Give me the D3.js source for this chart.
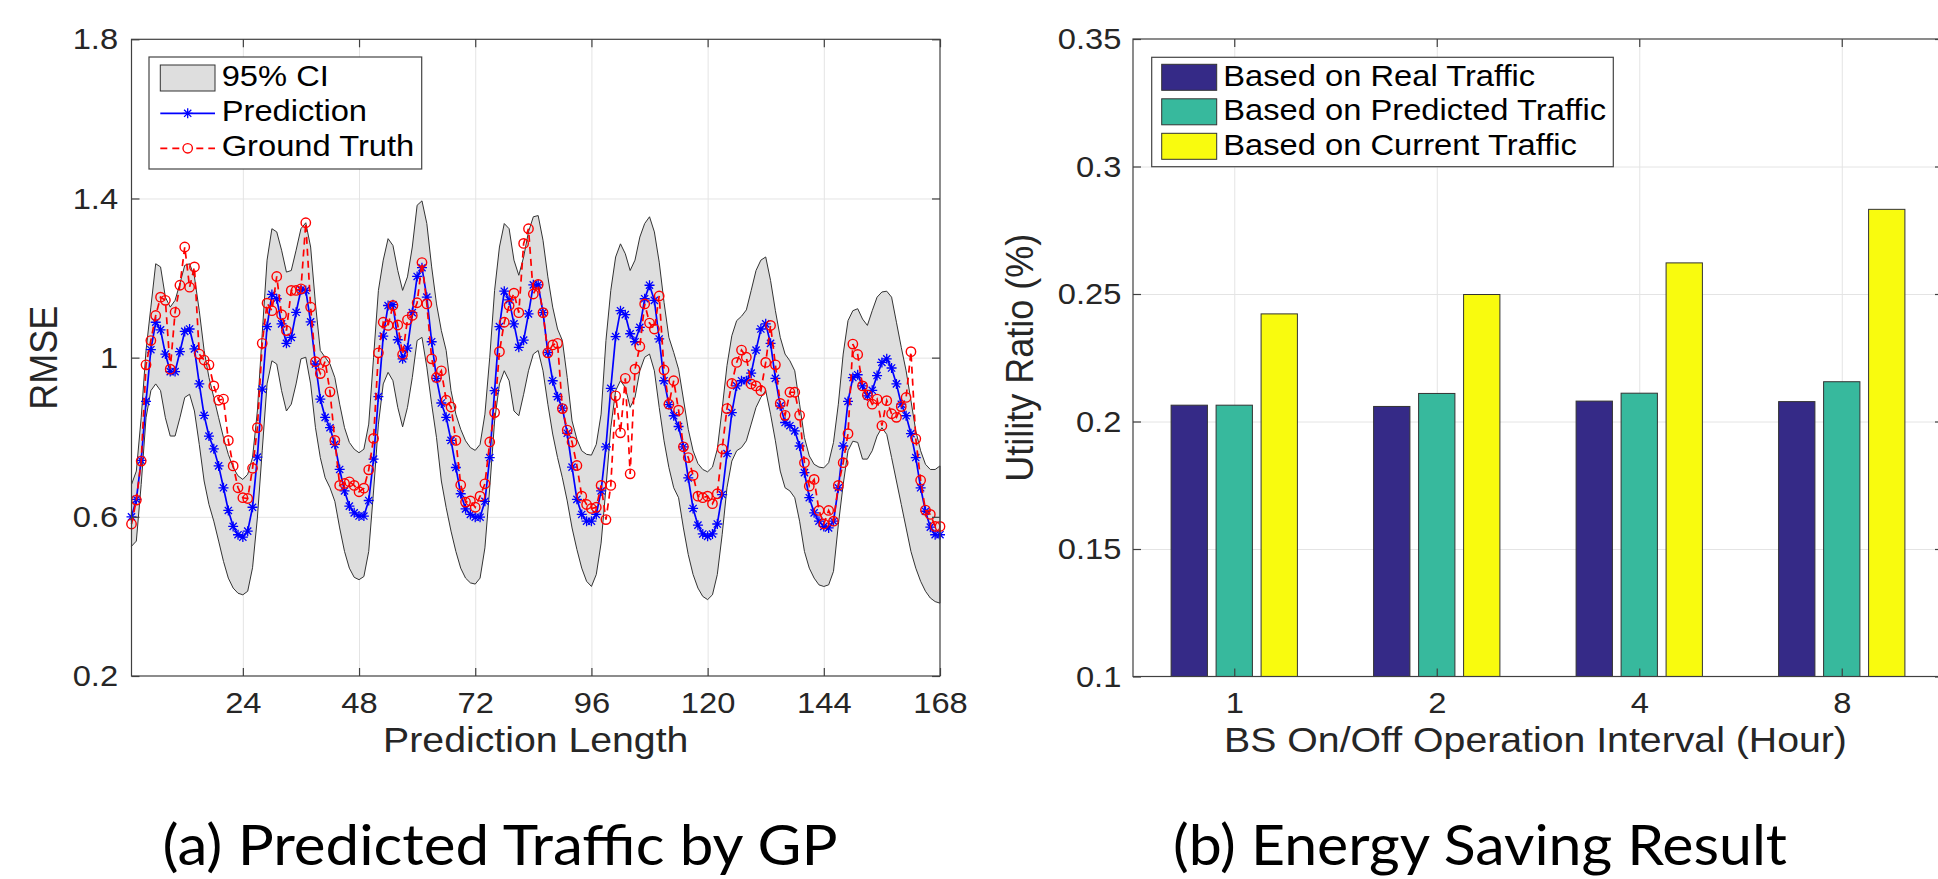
<!DOCTYPE html>
<html>
<head>
<meta charset="utf-8">
<script src="https://cdn.jsdelivr.net/npm/d3@7"></script>
<style>
  body { margin: 0; background: #fff; }
  svg { display: block; }
  text { font-family: "Liberation Sans", Arial, Helvetica, sans-serif; }
  .caption { font-family: Lato, "Open Sans", sans-serif; }
</style>
</head>
<body>
<svg id="fig" width="1938" height="879"></svg>
<script>
// ---- data: (a) GP prediction, hours 1..168
var hours = d3.range(1, 169);
var prediction = [
  0.600, 0.644, 0.742, 0.890, 1.020, 1.089, 1.070, 1.009, 0.965, 0.965, 1.015, 1.066,
  1.072, 1.022, 0.934, 0.855, 0.803, 0.771, 0.728, 0.673, 0.616, 0.576, 0.555, 0.549,
  0.564, 0.624, 0.750, 0.921, 1.078, 1.159, 1.148, 1.085, 1.036, 1.051, 1.114, 1.170,
  1.169, 1.090, 0.984, 0.896, 0.850, 0.824, 0.782, 0.719, 0.665, 0.627, 0.610, 0.602,
  0.602, 0.641, 0.745, 0.902, 1.054, 1.131, 1.133, 1.045, 0.997, 1.024, 1.113, 1.204,
  1.226, 1.152, 1.040, 0.948, 0.886, 0.850, 0.792, 0.724, 0.658, 0.620, 0.606, 0.599,
  0.599, 0.639, 0.749, 0.917, 1.078, 1.167, 1.145, 1.085, 1.026, 1.044, 1.110, 1.183,
  1.183, 1.113, 1.013, 0.942, 0.902, 0.873, 0.810, 0.725, 0.644, 0.606, 0.589, 0.589,
  0.606, 0.665, 0.776, 0.923, 1.053, 1.118, 1.108, 1.060, 1.040, 1.076, 1.148, 1.182,
  1.144, 1.047, 0.942, 0.882, 0.854, 0.827, 0.776, 0.698, 0.621, 0.579, 0.557, 0.551,
  0.557, 0.582, 0.656, 0.759, 0.862, 0.929, 0.942, 0.942, 0.961, 1.019, 1.072, 1.085,
  1.036, 0.948, 0.879, 0.837, 0.829, 0.816, 0.778, 0.711, 0.648, 0.610, 0.589, 0.576,
  0.572, 0.589, 0.673, 0.778, 0.890, 0.950, 0.957, 0.929, 0.904, 0.918, 0.955, 0.988,
  0.997, 0.974, 0.934, 0.883, 0.854, 0.809, 0.749, 0.673, 0.614, 0.574, 0.555, 0.555
];
var groundTruth = [
  0.582, 0.642, 0.740, 0.982, 1.043, 1.106, 1.152, 1.144, 0.971, 1.114, 1.182, 1.278,
  1.177, 1.228, 1.009, 0.994, 0.982, 0.929, 0.893, 0.896, 0.792, 0.728, 0.673, 0.648,
  0.646, 0.722, 0.824, 1.036, 1.137, 1.118, 1.204, 1.108, 1.068, 1.169, 1.169, 1.173,
  1.339, 1.127, 0.990, 0.960, 0.991, 0.914, 0.792, 0.679, 0.684, 0.688, 0.679, 0.663,
  0.672, 0.718, 0.797, 1.012, 1.089, 1.081, 1.131, 1.082, 1.008, 1.095, 1.106, 1.138,
  1.239, 1.135, 0.997, 0.950, 0.967, 0.893, 0.876, 0.792, 0.680, 0.637, 0.640, 0.624,
  0.652, 0.683, 0.788, 0.862, 1.015, 1.089, 1.131, 1.162, 1.113, 1.287, 1.324, 1.160,
  1.184, 1.113, 1.012, 1.032, 1.036, 0.872, 0.818, 0.788, 0.729, 0.652, 0.631, 0.621,
  0.624, 0.679, 0.593, 0.679, 0.904, 0.811, 0.948, 0.708, 0.971, 1.028, 1.135, 1.087,
  1.072, 1.155, 0.969, 0.883, 0.942, 0.868, 0.776, 0.749, 0.704, 0.652, 0.648, 0.652,
  0.633, 0.658, 0.771, 0.872, 0.935, 0.988, 1.019, 1.001, 0.934, 0.929, 0.917, 0.988,
  1.081, 0.982, 0.885, 0.855, 0.913, 0.913, 0.855, 0.736, 0.677, 0.694, 0.616, 0.582,
  0.616, 0.589, 0.679, 0.736, 0.809, 1.034, 1.008, 0.929, 0.906, 0.883, 0.896, 0.829,
  0.892, 0.859, 0.850, 0.877, 0.900, 1.015, 0.796, 0.692, 0.617, 0.606, 0.576, 0.576
];
var ciUpper = [
  0.681, 0.715, 0.849, 1.018, 1.127, 1.236, 1.228, 1.152, 1.127, 1.144, 1.186, 1.232,
  1.236, 1.203, 1.118, 1.018, 0.950, 0.900, 0.849, 0.799, 0.757, 0.724, 0.703, 0.694,
  0.707, 0.749, 0.866, 1.060, 1.245, 1.324, 1.316, 1.270, 1.215, 1.219, 1.270, 1.324,
  1.339, 1.278, 1.135, 1.018, 1.001, 0.984, 0.950, 0.883, 0.824, 0.787, 0.770, 0.761,
  0.770, 0.833, 1.001, 1.169, 1.245, 1.299, 1.282, 1.219, 1.169, 1.203, 1.278, 1.383,
  1.394, 1.337, 1.228, 1.135, 1.068, 1.018, 0.917, 0.858, 0.820, 0.791, 0.774, 0.767,
  0.782, 0.858, 1.001, 1.169, 1.278, 1.337, 1.324, 1.245, 1.207, 1.253, 1.316, 1.354,
  1.357, 1.295, 1.203, 1.127, 1.072, 1.043, 0.950, 0.841, 0.795, 0.766, 0.757, 0.755,
  0.782, 0.858, 1.043, 1.169, 1.253, 1.286, 1.261, 1.219, 1.245, 1.303, 1.337, 1.354,
  1.316, 1.240, 1.139, 1.051, 1.013, 0.971, 0.896, 0.820, 0.766, 0.734, 0.719, 0.713,
  0.725, 0.770, 0.871, 0.980, 1.055, 1.093, 1.104, 1.120, 1.169, 1.219, 1.245, 1.253,
  1.194, 1.118, 1.051, 1.009, 0.992, 0.967, 0.883, 0.799, 0.753, 0.732, 0.725, 0.723,
  0.736, 0.787, 0.883, 1.009, 1.093, 1.118, 1.123, 1.097, 1.081, 1.118, 1.152, 1.165,
  1.167, 1.152, 1.089, 1.026, 0.967, 0.892, 0.816, 0.766, 0.732, 0.719, 0.719, 0.728
];
var ciLower = [
  0.526, 0.539, 0.681, 0.849, 0.917, 0.934, 0.917, 0.849, 0.803, 0.803, 0.849, 0.900,
  0.908, 0.866, 0.782, 0.690, 0.631, 0.589, 0.539, 0.488, 0.446, 0.421, 0.408, 0.404,
  0.413, 0.472, 0.597, 0.766, 0.934, 0.992, 0.984, 0.917, 0.866, 0.883, 0.934, 0.997,
  1.001, 0.934, 0.824, 0.749, 0.698, 0.673, 0.639, 0.572, 0.513, 0.471, 0.448, 0.442,
  0.450, 0.513, 0.665, 0.833, 0.934, 0.963, 0.942, 0.875, 0.826, 0.875, 0.950, 1.043,
  1.051, 0.976, 0.883, 0.799, 0.690, 0.623, 0.564, 0.513, 0.471, 0.446, 0.434, 0.431,
  0.446, 0.522, 0.673, 0.841, 0.934, 0.967, 0.942, 0.866, 0.854, 0.908, 0.967, 1.009,
  1.018, 0.967, 0.883, 0.808, 0.749, 0.698, 0.640, 0.572, 0.518, 0.471, 0.438, 0.425,
  0.455, 0.534, 0.673, 0.824, 0.917, 0.942, 0.925, 0.875, 0.900, 0.967, 1.001, 1.009,
  0.967, 0.875, 0.791, 0.724, 0.673, 0.648, 0.572, 0.505, 0.455, 0.421, 0.400, 0.392,
  0.404, 0.455, 0.555, 0.673, 0.740, 0.766, 0.774, 0.791, 0.833, 0.875, 0.900, 0.917,
  0.858, 0.791, 0.715, 0.673, 0.665, 0.648, 0.589, 0.513, 0.471, 0.446, 0.429, 0.425,
  0.429, 0.463, 0.580, 0.681, 0.766, 0.790, 0.787, 0.745, 0.745, 0.766, 0.803, 0.824,
  0.807, 0.749, 0.690, 0.631, 0.572, 0.513, 0.471, 0.438, 0.413, 0.396, 0.387, 0.383
];
var rmseTicks = [0.2, 0.6, 1, 1.4, 1.8];
var hourTicks = [24, 48, 72, 96, 120, 144, 168];

// ---- data: (b) energy saving
var intervals = ["1", "2", "4", "8"];
var strategies = ["Based on Real Traffic", "Based on Predicted Traffic", "Based on Current Traffic"];
var realTraffic = [0.2064, 0.2059, 0.2080, 0.2078];
var predictedTraffic = [0.2064, 0.2110, 0.2111, 0.2156];
var currentTraffic = [0.2422, 0.2498, 0.2622, 0.2832];
var ratioTicks = [0.1, 0.15, 0.2, 0.25, 0.3, 0.35];

var svg = d3.select("#fig");
var SX = 1.09; // the figure is a little wider than tall in the paper
var axisColor = "#404040", gridColor = "#e4e4e4", textColor = "#262626";

function cleanTicks(g, fontSize) {
  g.select(".domain").remove();
  g.selectAll("line").attr("stroke", axisColor).attr("stroke-width", 1.2);
  g.selectAll("text").attr("fill", textColor).style("font-size", fontSize + "px")
    .attr("transform", "scale(" + SX + ",1)");
}
function gridOnly(g) {
  g.select(".domain").remove();
  g.selectAll("line").attr("stroke", gridColor).attr("stroke-width", 1);
}
function grid(g, b, xs, xt, ys, yt) {
  g.append("g").attr("transform", "translate(0," + b.y1 + ")")
    .call(d3.axisBottom(xs).tickValues(xt).tickSize(-(b.y1 - b.y0)).tickFormat("")).call(gridOnly);
  g.append("g").attr("transform", "translate(" + b.x0 + ",0)")
    .call(d3.axisLeft(ys).tickValues(yt).tickSize(-(b.x1 - b.x0)).tickFormat("")).call(gridOnly);
}
function frame(g, b, xs, xt, ys, yt, xfmt, yfmt, xpad, ypad) {
  g.append("g").attr("transform", "translate(0," + b.y1 + ")")
    .call(d3.axisBottom(xs).tickValues(xt).tickSizeInner(-8).tickSizeOuter(0).tickPadding(xpad).tickFormat(xfmt))
    .call(cleanTicks, 30);
  g.append("g").attr("transform", "translate(0," + b.y0 + ")")
    .call(d3.axisTop(xs).tickValues(xt).tickSizeInner(-8).tickSizeOuter(0).tickFormat(""))
    .call(cleanTicks, 30);
  g.append("g").attr("transform", "translate(" + b.x0 + ",0)")
    .call(d3.axisLeft(ys).tickValues(yt).tickSizeInner(-8).tickSizeOuter(0).tickPadding(ypad).tickFormat(yfmt))
    .call(cleanTicks, 30);
  g.append("g").attr("transform", "translate(" + b.x1 + ",0)")
    .call(d3.axisRight(ys).tickValues(yt).tickSizeInner(-8).tickSizeOuter(0).tickFormat(""))
    .call(cleanTicks, 30);
  g.append("rect").attr("x", b.x0).attr("y", b.y0).attr("width", b.x1 - b.x0).attr("height", b.y1 - b.y0)
    .attr("fill", "none").attr("stroke", axisColor).attr("stroke-width", 1.2);
}
function hText(g, str, x, y, size, anchor, color) {
  g.append("text").attr("transform", "translate(" + x + "," + y + ") scale(" + SX + ",1)")
    .attr("text-anchor", anchor).style("font-size", size + "px").attr("fill", color).text(str);
}
function vText(g, str, x, y, size) {
  g.append("text").attr("transform", "translate(" + x + "," + y + ") scale(" + SX + ",1) rotate(-90)")
    .attr("text-anchor", "middle").style("font-size", size + "px").attr("fill", textColor).text(str);
}
var starPath = "M-5,0H5M0,-5V5M-3.6,-3.6L3.6,3.6M-3.6,3.6L3.6,-3.6";

// ================= (a) =================
var bA = { x0: 131.5, x1: 940, y0: 39.3, y1: 676 };
var x = d3.scaleLinear().domain([1, 168]).range([bA.x0, bA.x1]);
var y = d3.scaleLinear().domain([0.2, 1.8]).range([bA.y1, bA.y0]);
var gA = svg.append("g");
grid(gA, bA, x, hourTicks.slice(0, 6), y, rmseTicks.slice(1, 4));

var area = d3.area()
  .x(function(d, i) { return x(hours[i]); })
  .y0(function(d, i) { return y(ciLower[i]); })
  .y1(function(d, i) { return y(ciUpper[i]); });
gA.append("path").datum(hours).attr("d", area)
  .attr("fill", "#dedede").attr("stroke", "#333").attr("stroke-width", 1);

var line = d3.line().x(function(d, i) { return x(hours[i]); }).y(function(d) { return y(d); });
gA.append("path").datum(prediction).attr("d", line)
  .attr("fill", "none").attr("stroke", "#0000ff").attr("stroke-width", 1.7);
gA.append("g").selectAll("path").data(prediction).enter().append("path")
  .attr("transform", function(d, i) { return "translate(" + x(hours[i]) + "," + y(d) + ")"; })
  .attr("d", starPath).attr("stroke", "#0000ff").attr("stroke-width", 1.3).attr("fill", "none");

gA.append("path").datum(groundTruth).attr("d", line)
  .attr("fill", "none").attr("stroke", "#ff0000").attr("stroke-width", 1.7).attr("stroke-dasharray", "7,5");
gA.append("g").selectAll("circle").data(groundTruth).enter().append("circle")
  .attr("cx", function(d, i) { return x(hours[i]); }).attr("cy", function(d) { return y(d); })
  .attr("r", 4.7).attr("fill", "none").attr("stroke", "#ff0000").attr("stroke-width", 1.4);

frame(gA, bA, x, hourTicks, y, rmseTicks, function(d) { return d; }, function(d) { return String(d); }, 15.7, 12.3);

hText(gA, "Prediction Length", (bA.x0 + bA.x1) / 2, 752, 36, "middle", textColor);
vText(gA, "RMSE", 57, (bA.y0 + bA.y1) / 2, 36);

// legend (a)
var lgA = gA.append("g");
lgA.append("rect").attr("x", 149).attr("y", 57).attr("width", 272.7).attr("height", 112)
  .attr("fill", "#fff").attr("stroke", "#444").attr("stroke-width", 1.2);
lgA.append("rect").attr("x", 160.3).attr("y", 65).attr("width", 54.7).attr("height", 26)
  .attr("fill", "#dedede").attr("stroke", "#333").attr("stroke-width", 1);
lgA.append("line").attr("x1", 160.3).attr("x2", 215).attr("y1", 113.3).attr("y2", 113.3)
  .attr("stroke", "#0000ff").attr("stroke-width", 1.7);
lgA.append("path").attr("transform", "translate(187.7,113.3)").attr("d", starPath)
  .attr("stroke", "#0000ff").attr("stroke-width", 1.3);
lgA.append("line").attr("x1", 160.3).attr("x2", 215).attr("y1", 148.3).attr("y2", 148.3)
  .attr("stroke", "#ff0000").attr("stroke-width", 1.7).attr("stroke-dasharray", "7,5");
lgA.append("circle").attr("cx", 187.7).attr("cy", 148.3).attr("r", 4.7)
  .attr("fill", "#fff").attr("stroke", "#ff0000").attr("stroke-width", 1.4);
["95% CI", "Prediction", "Ground Truth"].forEach(function(s, i) {
  hText(lgA, s, 221.7, 86 + i * 35.2, 30, "start", "#000");
});

// ================= (b) =================
var bB = { x0: 1133, x1: 1943, y0: 39, y1: 676.5 };
var xg = d3.scaleBand().domain(intervals).range([bB.x0, bB.x1]);
var y2 = d3.scaleLinear().domain([0.1, 0.35]).range([bB.y1, bB.y0]);
var xs = d3.scaleBand().domain(strategies).range([-67.5, 67.5]).paddingInner(0.193).paddingOuter(0.0967);
var colors = d3.scaleOrdinal().domain(strategies).range(["#352a87", "#37b99d", "#f9fb0e"]);
var xc = d3.scalePoint().domain(intervals).range([bB.x0 + xg.bandwidth() / 2, bB.x1 - xg.bandwidth() / 2]);
var gB = svg.append("g");
grid(gB, bB, xc, intervals, y2, ratioTicks.slice(1, 5));

var barRows = intervals.map(function(k, i) {
  return [realTraffic[i], predictedTraffic[i], currentTraffic[i]].map(function(v, j) {
    return { interval: k, strategy: strategies[j], value: v };
  });
});
gB.append("g").selectAll("g").data(barRows).enter().append("g")
  .attr("transform", function(d) { return "translate(" + xc(d[0].interval) + ",0)"; })
  .selectAll("rect").data(function(d) { return d; }).enter().append("rect")
  .attr("x", function(d) { return xs(d.strategy); })
  .attr("width", xs.bandwidth())
  .attr("y", function(d) { return y2(d.value); })
  .attr("height", function(d) { return y2(0.1) - y2(d.value); })
  .attr("fill", function(d) { return colors(d.strategy); })
  .attr("stroke", "#333").attr("stroke-width", 1);

frame(gB, bB, xc, intervals, y2, ratioTicks, function(d) { return d; }, function(d) { return String(d); }, 15.7, 10.7);

hText(gB, "BS On/Off Operation Interval (Hour)", (1133 + 1938) / 2, 752, 36, "middle", textColor);
vText(gB, "Utility Ratio (%)", 1033, (bB.y0 + bB.y1) / 2, 36);

// legend (b)
var lgB = gB.append("g");
lgB.append("rect").attr("x", 1151.7).attr("y", 57.3).attr("width", 461.6).attr("height", 109.4)
  .attr("fill", "#fff").attr("stroke", "#444").attr("stroke-width", 1.2);
strategies.forEach(function(s, i) {
  lgB.append("rect").attr("x", 1161.7).attr("y", 64.3 + i * 34.5).attr("width", 55).attr("height", 26)
    .attr("fill", colors(s)).attr("stroke", "#333").attr("stroke-width", 1);
  hText(lgB, s, 1223.3, 85.7 + i * 34.5, 30, "start", "#000");
});

// ---- captions
svg.append("text").attr("class", "caption").attr("x", 500).attr("y", 865)
  .attr("text-anchor", "middle").style("font-size", "57px").attr("fill", "#000")
  .attr("textLength", 675).attr("lengthAdjust", "spacingAndGlyphs")
  .text("(a) Predicted Traffic by GP");
svg.append("text").attr("class", "caption").attr("x", 1480).attr("y", 865)
  .attr("text-anchor", "middle").style("font-size", "57px").attr("fill", "#000")
  .attr("textLength", 614).attr("lengthAdjust", "spacingAndGlyphs")
  .text("(b) Energy Saving Result");
</script>
</body>
</html>
